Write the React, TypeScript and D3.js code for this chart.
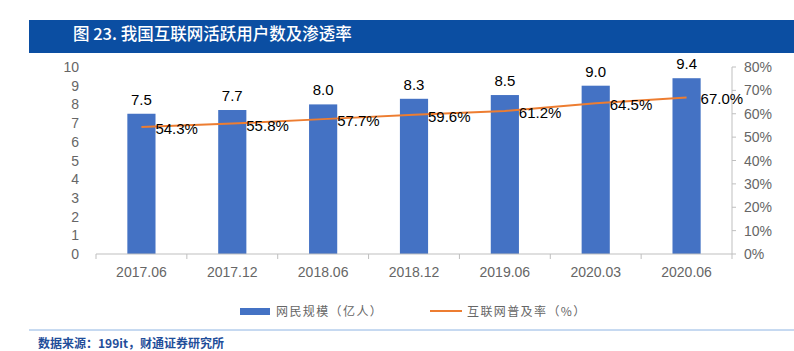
import React, { useEffect, useRef } from 'react';
import * as d3 from 'd3';

const categories = ['2017.06', '2017.12', '2018.06', '2018.12', '2019.06', '2020.03', '2020.06'];
const users = [7.5, 7.7, 8.0, 8.3, 8.5, 9.0, 9.4];
const rates = [54.3, 55.8, 57.7, 59.6, 61.2, 64.5, 67.0];
const leftTicks = [0, 1, 2, 3, 4, 5, 6, 7, 8, 9, 10];
const rightTicks = [0, 10, 20, 30, 40, 50, 60, 70, 80];

const LATIN = '"Liberation Sans", Arial, sans-serif';
const CJK = '"Noto Sans CJK SC", "Liberation Sans", sans-serif';

const App = () => {
  const svgRef = useRef<SVGSVGElement>(null);

  useEffect(() => {
    const svg = d3.select(svgRef.current);
    svg.selectAll('*').remove();

    const W = 794;
    const H = 351;
    const plot = { left: 96, right: 732, top: 67, bottom: 254 };

    const x = d3.scaleBand().domain(categories).range([plot.left, plot.right]).padding(0);
    const yL = d3.scaleLinear().domain([0, 10]).range([plot.bottom, plot.top]);
    const yR = d3.scaleLinear().domain([0, 80]).range([plot.bottom, plot.top]);
    const barW = x.bandwidth() * 0.31;
    const cx = (c: string) => (x(c) as number) + x.bandwidth() / 2;

    svg.attr('width', W).attr('height', H);

    // title bar
    svg.append('rect').attr('x', 29).attr('y', 20).attr('width', W - 29).attr('height', 33).attr('fill', '#0B4EA2');
    svg.append('text')
      .attr('x', 73).attr('y', 39.5)
      .attr('fill', '#fff')
      .attr('font-family', CJK)
      .attr('font-size', 16.5)
      .attr('font-weight', 500)
      .text('图 23. 我国互联网活跃用户数及渗透率');

    // left axis labels (no line)
    svg.append('g').selectAll('text').data(leftTicks).enter().append('text')
      .attr('x', 79).attr('y', d => yL(d) + 5)
      .attr('text-anchor', 'end')
      .attr('font-family', LATIN).attr('font-size', 14).attr('fill', '#666')
      .text(d => d);

    // bars
    svg.append('g').selectAll('rect').data(users).enter().append('rect')
      .attr('x', (d, i) => cx(categories[i]) - barW / 2)
      .attr('y', d => yL(d))
      .attr('width', barW)
      .attr('height', d => plot.bottom - yL(d))
      .attr('fill', '#4472C4');

    // bar value labels
    svg.append('g').selectAll('text').data(users).enter().append('text')
      .attr('x', (d, i) => cx(categories[i]))
      .attr('y', d => yL(d) - 9)
      .attr('text-anchor', 'middle')
      .attr('font-family', LATIN).attr('font-size', 15).attr('fill', '#000')
      .text(d => d.toFixed(1));

    // x axis
    const xAxis = svg.append('g').attr('transform', `translate(0,${plot.bottom})`);
    xAxis.append('line').attr('x1', plot.left).attr('x2', plot.right).attr('stroke', '#BFBFBF').attr('stroke-width', 1);
    const bounds = categories.map(c => x(c) as number).concat([plot.right]);
    xAxis.selectAll('line.tick').data(bounds).enter().append('line')
      .attr('class', 'tick')
      .attr('x1', d => d).attr('x2', d => d).attr('y1', 0).attr('y2', 5)
      .attr('stroke', '#BFBFBF');
    xAxis.selectAll('text').data(categories).enter().append('text')
      .attr('x', d => cx(d)).attr('y', 23)
      .attr('text-anchor', 'middle')
      .attr('font-family', LATIN).attr('font-size', 14).attr('fill', '#666')
      .text(d => d);

    // right axis
    const rAxis = svg.append('g').attr('transform', `translate(${plot.right},0)`);
    rAxis.append('line').attr('y1', yR(80)).attr('y2', plot.bottom).attr('stroke', '#BFBFBF');
    rAxis.selectAll('line.tick').data(rightTicks).enter().append('line')
      .attr('class', 'tick')
      .attr('x1', 0).attr('x2', 4).attr('y1', d => yR(d)).attr('y2', d => yR(d))
      .attr('stroke', '#BFBFBF');
    rAxis.selectAll('text').data(rightTicks).enter().append('text')
      .attr('x', 12).attr('y', d => yR(d) + 5)
      .attr('font-family', LATIN).attr('font-size', 14).attr('fill', '#666')
      .text(d => `${d}%`);

    // penetration line
    const line = d3.line<number>()
      .x((d, i) => cx(categories[i]))
      .y(d => yR(d));
    svg.append('path')
      .datum(rates)
      .attr('fill', 'none')
      .attr('stroke', '#ED7D31')
      .attr('stroke-width', 2)
      .attr('d', line);

    svg.append('g').selectAll('text').data(rates).enter().append('text')
      .attr('x', (d, i) => cx(categories[i]) + 14)
      .attr('y', d => yR(d) + 7)
      .attr('font-family', LATIN).attr('font-size', 15).attr('fill', '#000')
      .text(d => `${d.toFixed(1)}%`);

    // legend
    const lg = svg.append('g');
    lg.append('rect').attr('x', 240).attr('y', 308).attr('width', 30).attr('height', 7).attr('fill', '#4472C4');
    lg.append('text')
      .attr('x', 276).attr('y', 316)
      .attr('font-family', CJK).attr('font-size', 12).attr('letter-spacing', 1.4).attr('fill', '#666')
      .text('网民规模（亿人）');
    lg.append('line').attr('x1', 430).attr('x2', 462).attr('y1', 311).attr('y2', 311)
      .attr('stroke', '#ED7D31').attr('stroke-width', 2);
    lg.append('text')
      .attr('x', 467).attr('y', 316)
      .attr('font-family', CJK).attr('font-size', 12).attr('letter-spacing', 1.4).attr('fill', '#666')
      .text('互联网普及率（%）');

    // bottom rule and source
    svg.append('line').attr('x1', 29).attr('x2', W).attr('y1', 330).attr('y2', 330)
      .attr('stroke', '#8EB4E3').attr('stroke-width', 1);
    svg.append('text')
      .attr('x', 38).attr('y', 348)
      .attr('font-family', CJK).attr('font-size', 12).attr('font-weight', 'bold').attr('fill', '#1F4E9A')
      .text('数据来源：199it，财通证券研究所');
  }, []);

  return (
    <svg ref={svgRef} style={{ position: 'absolute', left: 0, top: 0, background: '#fff' }}></svg>
  );
};

export default App;
